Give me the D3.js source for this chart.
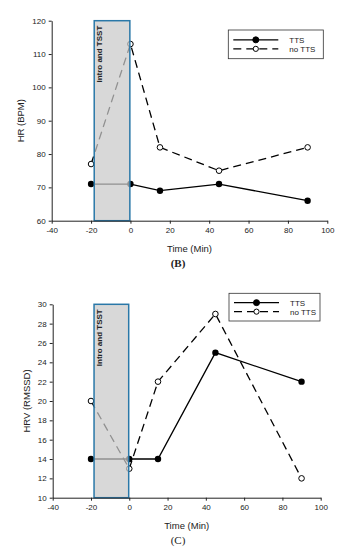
<!DOCTYPE html>
<html>
<head>
<meta charset="utf-8">
<script src="https://cdn.jsdelivr.net/npm/d3@7"></script>
<style>
  body { margin: 0; background: #fff; }
  svg { display: block; font-family: Arial, "Liberation Sans", sans-serif; }
  .axis text { font-size: 8px; fill: #222; }
  .axis path, .axis line { stroke: #222; }
</style>
</head>
<body>
<div id="chart"></div>
<script>
// time points (min)
var timePoints = [-20, 0, 15, 45, 90];
var xTicks = [-40, -20, 0, 20, 40, 60, 80, 100];

// panel B: heart rate
var hrTTS   = [71, 71, 69, 71, 66];
var hrNoTTS = [77, 113, 82, 75, 82];
var hrTicks = [60, 70, 80, 90, 100, 110, 120];

// panel C: heart rate variability
var hrvTTS   = [14, 14, 14, 25, 22];
var hrvNoTTS = [20, 13, 22, 29, 12];
var hrvTicks = [10, 12, 14, 16, 18, 20, 22, 24, 26, 28, 30];

var seriesNames = ["TTS", "no TTS"];
var stressWindow = [-18.4, -0.3]; // Intro and TSST

var svg = d3.select("#chart").append("svg")
    .attr("width", 356)
    .attr("height", 550);

// plain hyphen for negatives, like the original
var plainFormat = function(d) { return String(d); };

function drawPanel(p) {
    var g = svg.append("g");

    var x = d3.scaleLinear().domain([-40, 100]).range([p.left, p.right]);
    var y = d3.scaleLinear().domain(p.yDomain).range([p.bottom, p.top]);

    var line = d3.line()
        .x(function(d) { return x(d[0]); })
        .y(function(d) { return y(d[1]); });

    var tts = d3.zip(timePoints, p.tts);
    var noTts = d3.zip(timePoints, p.noTts);

    // lines
    g.append("path").datum(noTts)
        .attr("d", line)
        .attr("fill", "none")
        .attr("stroke", "#000")
        .attr("stroke-width", 1.3)
        .attr("stroke-dasharray", "8,5");
    g.append("path").datum(tts)
        .attr("d", line)
        .attr("fill", "none")
        .attr("stroke", "#000")
        .attr("stroke-width", 1.3);

    // markers
    g.selectAll(".dotOpen").data(noTts).enter().append("circle")
        .attr("cx", function(d) { return x(d[0]); })
        .attr("cy", function(d) { return y(d[1]); })
        .attr("r", 2.8)
        .attr("fill", "#fff")
        .attr("stroke", "#000")
        .attr("stroke-width", 1);
    g.selectAll(".dotFill").data(tts).enter().append("circle")
        .attr("cx", function(d) { return x(d[0]); })
        .attr("cy", function(d) { return y(d[1]); })
        .attr("r", 3.2)
        .attr("fill", "#000");

    // shaded stress window drawn over the lines
    g.append("rect")
        .attr("x", x(stressWindow[0]))
        .attr("y", y(p.yDomain[1]))
        .attr("width", x(stressWindow[1]) - x(stressWindow[0]))
        .attr("height", y(p.yDomain[0]) - y(p.yDomain[1]))
        .attr("fill", "#c9c9c9")
        .attr("fill-opacity", 0.72)
        .attr("stroke", "#2a78a8")
        .attr("stroke-width", 1.5);

    g.append("text")
        .attr("transform", "translate(" + (x(stressWindow[0]) + 8) + "," + (y(p.yDomain[1]) + 5) + ") rotate(-90)")
        .attr("text-anchor", "end")
        .attr("font-size", "8px")
        .attr("font-weight", "bold")
        .attr("fill", "#222")
        .text("Intro and TSST");

    // axes
    var xAxis = d3.axisBottom(x).tickValues(xTicks).tickFormat(plainFormat)
        .tickSize(3).tickSizeOuter(0).tickPadding(4);
    var yAxis = d3.axisLeft(y).tickValues(p.yTicks).tickFormat(plainFormat)
        .tickSize(3).tickSizeOuter(0).tickPadding(3);

    g.append("g")
        .attr("class", "axis")
        .attr("transform", "translate(0," + p.bottom + ")")
        .call(xAxis);
    g.append("g")
        .attr("class", "axis")
        .attr("transform", "translate(" + p.left + ",0)")
        .call(yAxis);

    // axis titles
    g.append("text")
        .attr("x", (p.left + p.right) / 2)
        .attr("y", p.bottom + 31)
        .attr("text-anchor", "middle")
        .attr("font-size", "9.5px")
        .attr("fill", "#222")
        .text("Time (Min)");
    g.append("text")
        .attr("transform", "translate(" + p.yTitleX + "," + (p.top + p.bottom) / 2 + ") rotate(-90)")
        .attr("text-anchor", "middle")
        .attr("font-size", "9.5px")
        .attr("fill", "#222")
        .text(p.yTitle);

    // panel letter
    g.append("text")
        .attr("x", 178)
        .attr("y", p.bottom + 46)
        .attr("text-anchor", "middle")
        .attr("font-family", "'Liberation Serif', 'DejaVu Serif', serif")
        .attr("font-size", "11px")
        .attr("font-weight", p.letterBold ? "bold" : "normal")
        .attr("fill", "#222")
        .text(p.letter);

    // legend
    var lg = g.append("g").attr("transform", "translate(" + p.legend[0] + "," + p.legend[1] + ")");
    lg.append("rect")
        .attr("width", p.legend[2])
        .attr("height", p.legend[3])
        .attr("fill", "#fff")
        .attr("stroke", "#333")
        .attr("stroke-width", 0.8);
    seriesNames.forEach(function(name, i) {
        var ry = p.legend[3] / 2 - 4.5 + i * 9;
        lg.append("line")
            .attr("x1", 5).attr("x2", 50)
            .attr("y1", ry).attr("y2", ry)
            .attr("stroke", "#000")
            .attr("stroke-width", 1.3)
            .attr("stroke-dasharray", i === 0 ? null : "8,5");
        lg.append("circle")
            .attr("cx", 27.5).attr("cy", ry)
            .attr("r", i === 0 ? 3 : 2.6)
            .attr("fill", i === 0 ? "#000" : "#fff")
            .attr("stroke", "#000")
            .attr("stroke-width", 1);
        lg.append("text")
            .attr("x", 61)
            .attr("y", ry + 3)
            .attr("font-size", "8px")
            .attr("fill", "#222")
            .text(name);
    });
}

drawPanel({
    top: 20.7, bottom: 220.7, left: 51.7, right: 327.3,
    yDomain: [60, 120], yTicks: hrTicks,
    tts: hrTTS, noTts: hrNoTTS,
    yTitle: "HR (BPM)", yTitleX: 24,
    letter: "(B)", letterBold: true,
    legend: [228.3, 30, 95, 28.7]
});

drawPanel({
    top: 304.3, bottom: 497.7, left: 52.7, right: 320.7,
    yDomain: [10, 30], yTicks: hrvTicks,
    tts: hrvTTS, noTts: hrvNoTTS,
    yTitle: "HRV (RMSSD)", yTitleX: 30,
    letter: "(C)", letterBold: false,
    legend: [229, 293.3, 91, 27.7]
});
</script>
</body>
</html>
